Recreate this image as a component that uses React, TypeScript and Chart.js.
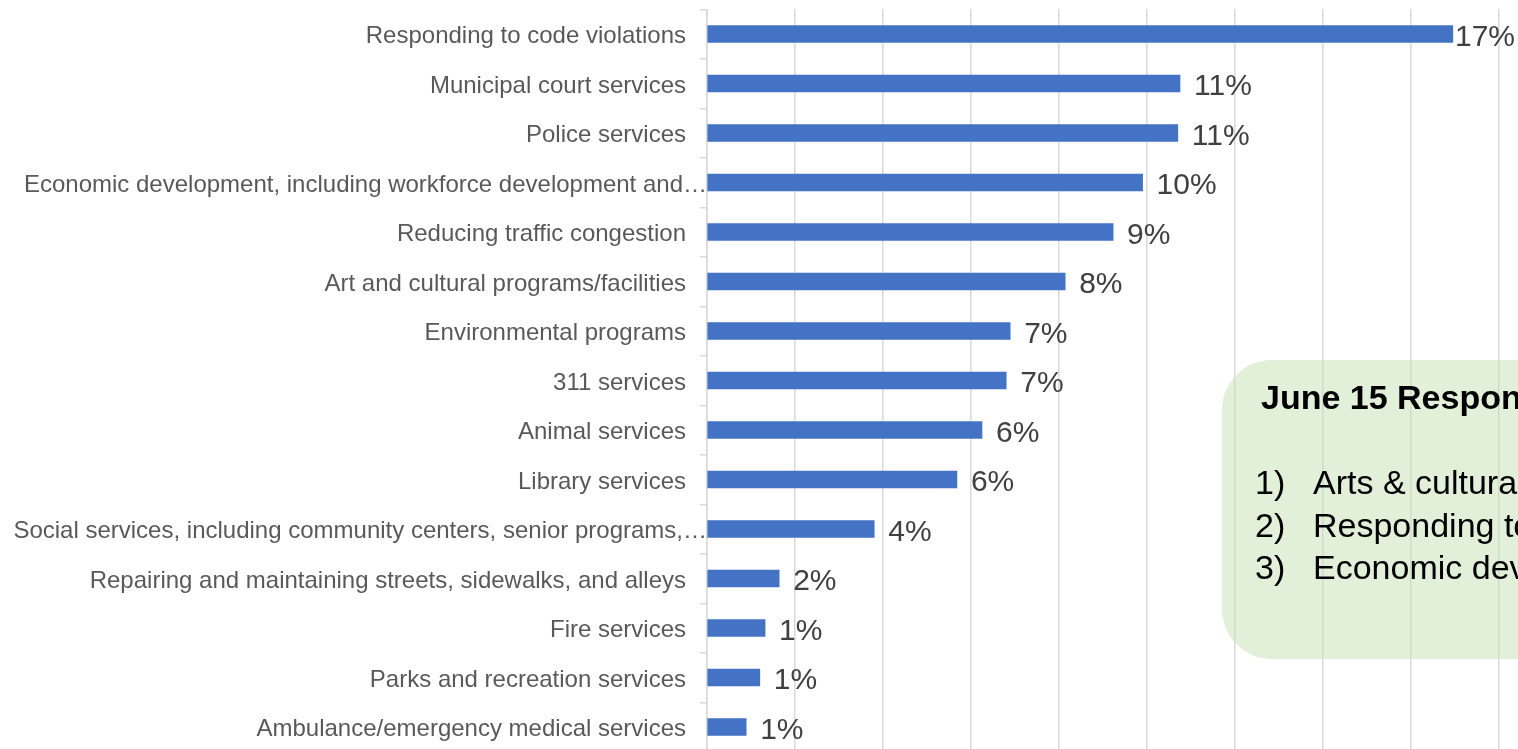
import React, { useEffect, useRef } from "react";
import { Chart, registerables } from "chart.js";

Chart.register(...registerables);

const categories = [
  "Responding to code violations",
  "Municipal court services",
  "Police services",
  "Economic development, including workforce development and…",
  "Reducing traffic congestion",
  "Art and cultural programs/facilities",
  "Environmental programs",
  "311 services",
  "Animal services",
  "Library services",
  "Social services, including community centers, senior programs,…",
  "Repairing and maintaining streets, sidewalks, and alleys",
  "Fire services",
  "Parks and recreation services",
  "Ambulance/emergency medical services",
];
const shares = [
  0.1695, 0.1075, 0.107, 0.099, 0.0923, 0.0814, 0.0689, 0.068, 0.0625, 0.0568,
  0.038, 0.0164, 0.0132, 0.012, 0.0089,
];
const valueLabels = [
  "17%", "11%", "11%", "10%", "9%", "8%", "7%", "7%", "6%", "6%", "4%", "2%", "1%", "1%", "1%",
];
const boxTitle = "June 15 Responses";
const boxItems = [
  "Arts & cultural programs/facilities",
  "Responding to code violations",
  "Economic development",
];

const VIEW_W = 1518;
const VIEW_H = 749;
const CANVAS_W = 1600;
const CANVAS_H = 760;
const FONT = '"Liberation Sans", Arial, sans-serif';

const labelPlugin = {
  id: "customLabels",
  afterDatasetsDraw(chart: any) {
    const ctx = chart.ctx as CanvasRenderingContext2D;
    const meta = chart.getDatasetMeta(0);
    ctx.save();
    ctx.font = `30px ${FONT}`;
    ctx.fillStyle = "#404040";
    ctx.textBaseline = "middle";
    ctx.textAlign = "left";
    meta.data.forEach((bar: any, i: number) => {
      const t = valueLabels[i];
      const w = ctx.measureText(t).width;
      let x = bar.x + 14;
      if (x + w > VIEW_W - 3) x = VIEW_W - 3 - w;
      ctx.fillText(t, x, bar.y + 3.5);
    });
    const ys = chart.scales.y;
    ctx.font = `24px ${FONT}`;
    ctx.fillStyle = "#595959";
    ctx.textAlign = "right";
    categories.forEach((c, i) => {
      const py = ys.getPixelForValue(i);
      const right = c.endsWith("…") ? chart.chartArea.left : chart.chartArea.left - 21;
      ctx.fillText(c, right, py + 2.5);
    });
    ctx.restore();
  },
};

export default function App() {
  const ref = useRef<HTMLCanvasElement | null>(null);
  useEffect(() => {
    document.body.style.margin = "0";
    if (!ref.current) return;
    const chart = new Chart(ref.current, {
      type: "bar",
      data: {
        labels: categories,
        datasets: [
          {
            data: shares,
            backgroundColor: "#4472c4",
            borderWidth: 0,
            barThickness: 17,
          },
        ],
      },
      options: {
        indexAxis: "y",
        responsive: false,
        animation: false,
        devicePixelRatio: 1,
        layout: { padding: { top: 9.25, right: 13, bottom: 8.25, left: 0 } },
        plugins: { legend: { display: false }, tooltip: { enabled: false } },
        scales: {
          x: {
            min: 0,
            max: 0.2,
            ticks: { display: false, stepSize: 0.02 },
            grid: { color: "#d9d9d9", lineWidth: 1.5, drawTicks: false },
            border: { display: false },
          },
          y: {
            ticks: { display: false },
            grid: {
              drawOnChartArea: false,
              drawTicks: true,
              tickLength: 7,
              color: "#d9d9d9",
              lineWidth: 1.5,
              offset: true,
            },
            border: { display: true, color: "#d9d9d9", width: 1.5 },
            afterFit: (s: any) => {
              s.width = 707;
            },
          },
        },
      },
      plugins: [labelPlugin],
    } as any);
    return () => chart.destroy();
  }, []);

  return (
    <div
      style={{
        position: "fixed",
        left: 0,
        top: 0,
        width: VIEW_W,
        height: VIEW_H,
        overflow: "hidden",
        background: "#fff",
        fontFamily: FONT,
      }}
    >
      <canvas
        ref={ref}
        width={CANVAS_W}
        height={CANVAS_H}
        style={{ position: "absolute", left: 0, top: 0, width: CANVAS_W, height: CANVAS_H }}
      />
      <div
        style={{
          position: "absolute",
          left: 1222,
          top: 360,
          width: 420,
          height: 299,
          borderRadius: 50,
          background: "rgba(197,224,180,0.5)",
        }}
      />
      <div
        style={{
          position: "absolute",
          left: 1261,
          top: 380,
          fontSize: 34,
          lineHeight: "34px",
          fontWeight: "bold",
          color: "#000",
          whiteSpace: "nowrap",
        }}
      >
        {boxTitle}
      </div>
      {boxItems.map((t, i) => (
        <div
          key={i}
          style={{
            position: "absolute",
            left: 1255,
            top: 465 + i * 42.7,
            fontSize: 34,
            lineHeight: "34px",
            color: "#000",
            whiteSpace: "nowrap",
          }}
        >
          <span style={{ display: "inline-block", width: 58 }}>{`${i + 1})`}</span>
          <span>{t}</span>
        </div>
      ))}
    </div>
  );
}
